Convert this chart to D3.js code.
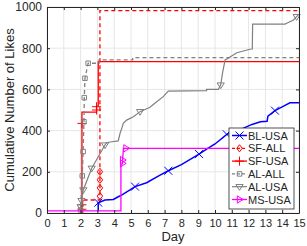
<!DOCTYPE html>
<html>
<head>
<meta charset="utf-8">
<script src="https://cdn.jsdelivr.net/npm/d3@7"></script>
<style>
  body { margin: 0; background: #fff; }
  svg { display: block; font-family: "Liberation Sans", Arial, sans-serif; }
</style>
</head>
<body>
<div id="chart"></div>
<script>
// tick values
const xTicks = d3.range(0, 16);
const yTicks = [0, 200, 400, 600, 800, 1000];

// series (day, cumulative likes)
const blX = [3.05, 3.05, 3.45, 3.95, 4.24, 4.44, 4.94, 5.24, 5.93, 6.73, 7.22, 8.0, 9.05, 9.5, 10.0, 10.7, 11.2, 11.5, 12.2, 12.7, 13.1, 13.15, 13.57, 14.0, 14.46, 15];
const blY = [10, 50, 63, 66, 79, 87, 112, 128, 147, 184, 205, 235, 286, 310, 335, 382, 395, 405, 430, 443, 445, 470, 497, 515, 535, 535];
const blMarks = [1, 7, 10, 12, 15, 22];

const sfAllX = [2.12, 2.12, 3.15, 3.15, 3.15, 3.15, 3.15, 3.15, 15];
const sfAllY = [0, 63, 63, 82, 122, 161, 200, 982, 982];
const sfAllMarks = [3, 4, 5, 6];

const sfUsaX = [2.08, 2.08, 2.08, 2.08, 2.08, 2.95, 2.95, 2.95, 3.05, 3.05, 15];
const sfUsaY = [0, 18, 40, 435, 490, 490, 500, 516, 520, 735, 735];
const sfUsaMarks = [1, 2, 3, 6, 7];

const alAllX = [2.0, 2.0, 2.1, 2.15, 2.2, 2.22, 2.26, 2.45, 3.1, 3.1, 5.1, 5.1, 15];
const alAllY = [0, 15, 180, 298, 443, 560, 654, 727, 727, 743, 743, 754, 754];
const alAllMarks = [1, 2, 3, 4, 5, 6, 7];

const alUsaX = [2.0, 2.0, 2.05, 2.16, 2.66, 3.45, 3.55, 3.85, 4.24, 4.35, 4.45, 4.54, 4.74, 5.14, 5.54, 6.13, 6.53, 6.92, 7.22, 9.5, 9.5, 10.2, 10.34, 10.45, 10.6, 10.7, 11.3, 12.08, 12.22, 12.24, 14.17, 14.27, 14.67, 14.86, 15];
const alUsaY = [0, 30, 60, 112, 217, 330, 341, 346, 350, 387, 411, 435, 451, 467, 492, 513, 540, 565, 592, 594, 600, 600, 621, 680, 743, 748, 778, 795, 796, 917, 917, 921, 937, 953, 965];
const alUsaMarks = [1, 2, 3, 4, 5, 14, 22, 33];

const msX = [0, 4.4, 4.4, 4.5, 4.5, 4.55, 4.7, 15];
const msY = [10, 10, 230, 241, 257, 314, 314, 314];
const msMarks = [3, 4, 6];

const series = [
  { name: "BL-USA", x: blX, y: blY, marks: blMarks, color: "#0000ff", dash: null, marker: "x", w: 1.5 },
  { name: "SF-ALL", x: sfAllX, y: sfAllY, marks: sfAllMarks, color: "#ff0000", dash: "4,3", marker: "diamond", w: 1.3 },
  { name: "SF-USA", x: sfUsaX, y: sfUsaY, marks: sfUsaMarks, color: "#ff0000", dash: null, marker: "plus", w: 1.3 },
  { name: "AL-ALL", x: alAllX, y: alAllY, marks: alAllMarks, color: "#808080", dash: "4,3", marker: "square", w: 1.3 },
  { name: "AL-USA", x: alUsaX, y: alUsaY, marks: alUsaMarks, color: "#808080", dash: null, marker: "tdown", w: 1.2 },
  { name: "MS-USA", x: msX, y: msY, marks: msMarks, color: "#ff00ff", dash: null, marker: "tright", w: 1.3 },
];

const W = 307, H = 246;
const margin = { top: 7, right: 8, bottom: 33, left: 47 };

const svg = d3.select("#chart").append("svg")
  .attr("width", W).attr("height", H);

const x = d3.scaleLinear().domain([0, 15]).range([margin.left, W - margin.right]);
const y = d3.scaleLinear().domain([0, 1000]).range([H - margin.bottom, margin.top]);

// grid
const grid = svg.append("g").attr("stroke", "#e6e6e6").attr("stroke-width", 1);
grid.selectAll("line.gx").data(xTicks).join("line")
  .attr("x1", d => x(d)).attr("x2", d => x(d))
  .attr("y1", y(0)).attr("y2", y(1000));
grid.selectAll("line.gy").data(yTicks).join("line")
  .attr("x1", x(0)).attr("x2", x(15))
  .attr("y1", d => y(d)).attr("y2", d => y(d));

// markers drawn as outlines, matlab style
function markerPath(type, s) {
  const p = d3.path();
  if (type === "x") {
    p.moveTo(-s, -s); p.lineTo(s, s); p.moveTo(-s, s); p.lineTo(s, -s);
  } else if (type === "plus") {
    p.moveTo(-s, 0); p.lineTo(s, 0); p.moveTo(0, -s); p.lineTo(0, s);
  } else if (type === "diamond") {
    p.moveTo(0, -s); p.lineTo(s * 0.75, 0); p.lineTo(0, s); p.lineTo(-s * 0.75, 0); p.closePath();
  } else if (type === "square") {
    const h = s * 0.75;
    p.rect(-h, -h, 2 * h, 2 * h);
  } else if (type === "tdown") {
    p.moveTo(-s, -s * 0.6); p.lineTo(s, -s * 0.6); p.lineTo(0, s); p.closePath();
  } else if (type === "tright") {
    p.moveTo(-s * 0.6, -s); p.lineTo(-s * 0.6, s); p.lineTo(s, 0); p.closePath();
  }
  return p.toString();
}
const mSize = { x: 4, plus: 4.5, diamond: 3.6, square: 3, tdown: 3.6, tright: 3.6 };

const line = d3.line().x(d => x(d[0])).y(d => y(d[1]));

const plot = svg.append("g");
series.forEach(s => {
  const pts = s.x.map((v, i) => [v, s.y[i]]);
  const g = plot.append("g");
  g.append("path")
    .datum(pts)
    .attr("fill", "none")
    .attr("stroke", s.color)
    .attr("stroke-width", s.w)
    .attr("stroke-dasharray", s.dash)
    .attr("d", line);
  g.selectAll("path.m").data(s.marks.map(i => pts[i])).join("path")
    .attr("class", "m")
    .attr("transform", d => `translate(${x(d[0])},${y(d[1])})`)
    .attr("d", markerPath(s.marker, mSize[s.marker]))
    .attr("fill", "none")
    .attr("stroke", s.color)
    .attr("stroke-width", 1);
});

// axes box with inward ticks
const axisColor = "#262626";
const xAxis = svg.append("g").attr("transform", `translate(0,${y(0)})`)
  .call(d3.axisBottom(x).tickValues(xTicks).tickFormat(d3.format("d"))
    .tickSizeInner(-3).tickSizeOuter(0).tickPadding(6));
const yAxis = svg.append("g").attr("transform", `translate(${x(0)},0)`)
  .call(d3.axisLeft(y).tickValues(yTicks).tickFormat(d3.format("d"))
    .tickSizeInner(-3).tickSizeOuter(0).tickPadding(5));
[xAxis, yAxis].forEach(a => {
  a.select(".domain").attr("stroke", axisColor);
  a.selectAll(".tick line").attr("stroke", axisColor);
  a.selectAll(".tick text").attr("fill", axisColor)
    .style("font-family", "Liberation Sans, Arial, sans-serif");
});
xAxis.selectAll(".tick text").style("font-size", "11px");
yAxis.selectAll(".tick text").style("font-size", "12px");
svg.append("g")
  .call(d3.axisTop(x).tickValues(xTicks).tickSizeInner(-3).tickSizeOuter(0).tickFormat(""))
  .attr("transform", `translate(0,${y(1000)})`)
  .call(g => g.selectAll("line, path").attr("stroke", axisColor));
svg.append("g")
  .call(d3.axisRight(y).tickValues(yTicks).tickSizeInner(-3).tickSizeOuter(0).tickFormat(""))
  .attr("transform", `translate(${x(15)},0)`)
  .call(g => g.selectAll("line, path").attr("stroke", axisColor));

// axis titles
svg.append("text")
  .attr("x", (x(0) + x(15)) / 2).attr("y", H - 5)
  .attr("text-anchor", "middle")
  .attr("fill", axisColor)
  .style("font-size", "13px")
  .text("Day");
svg.append("text")
  .attr("transform", `translate(14,${(y(0) + y(1000)) / 2}) rotate(-90)`)
  .attr("text-anchor", "middle")
  .attr("fill", axisColor)
  .style("font-size", "13px")
  .text("Cumulative Number of Likes");

// legend
const lg = svg.append("g").attr("transform", "translate(229,128)");
lg.append("rect")
  .attr("width", 65).attr("height", 81)
  .attr("fill", "#fff").attr("stroke", axisColor).attr("stroke-width", 0.8);
series.forEach((s, i) => {
  const row = lg.append("g").attr("transform", `translate(0,${7.5 + i * 12.8})`);
  row.append("line")
    .attr("x1", 3).attr("x2", 18)
    .attr("stroke", s.color).attr("stroke-width", s.w)
    .attr("stroke-dasharray", s.dash ? "3,2" : null);
  row.append("path")
    .attr("transform", "translate(10.5,0)")
    .attr("d", markerPath(s.marker, mSize[s.marker]))
    .attr("fill", "none").attr("stroke", s.color).attr("stroke-width", 1);
  row.append("text")
    .attr("x", 19).attr("y", 4)
    .attr("fill", axisColor)
    .style("font-size", "11px")
    .text(s.name);
});
</script>
</body>
</html>
